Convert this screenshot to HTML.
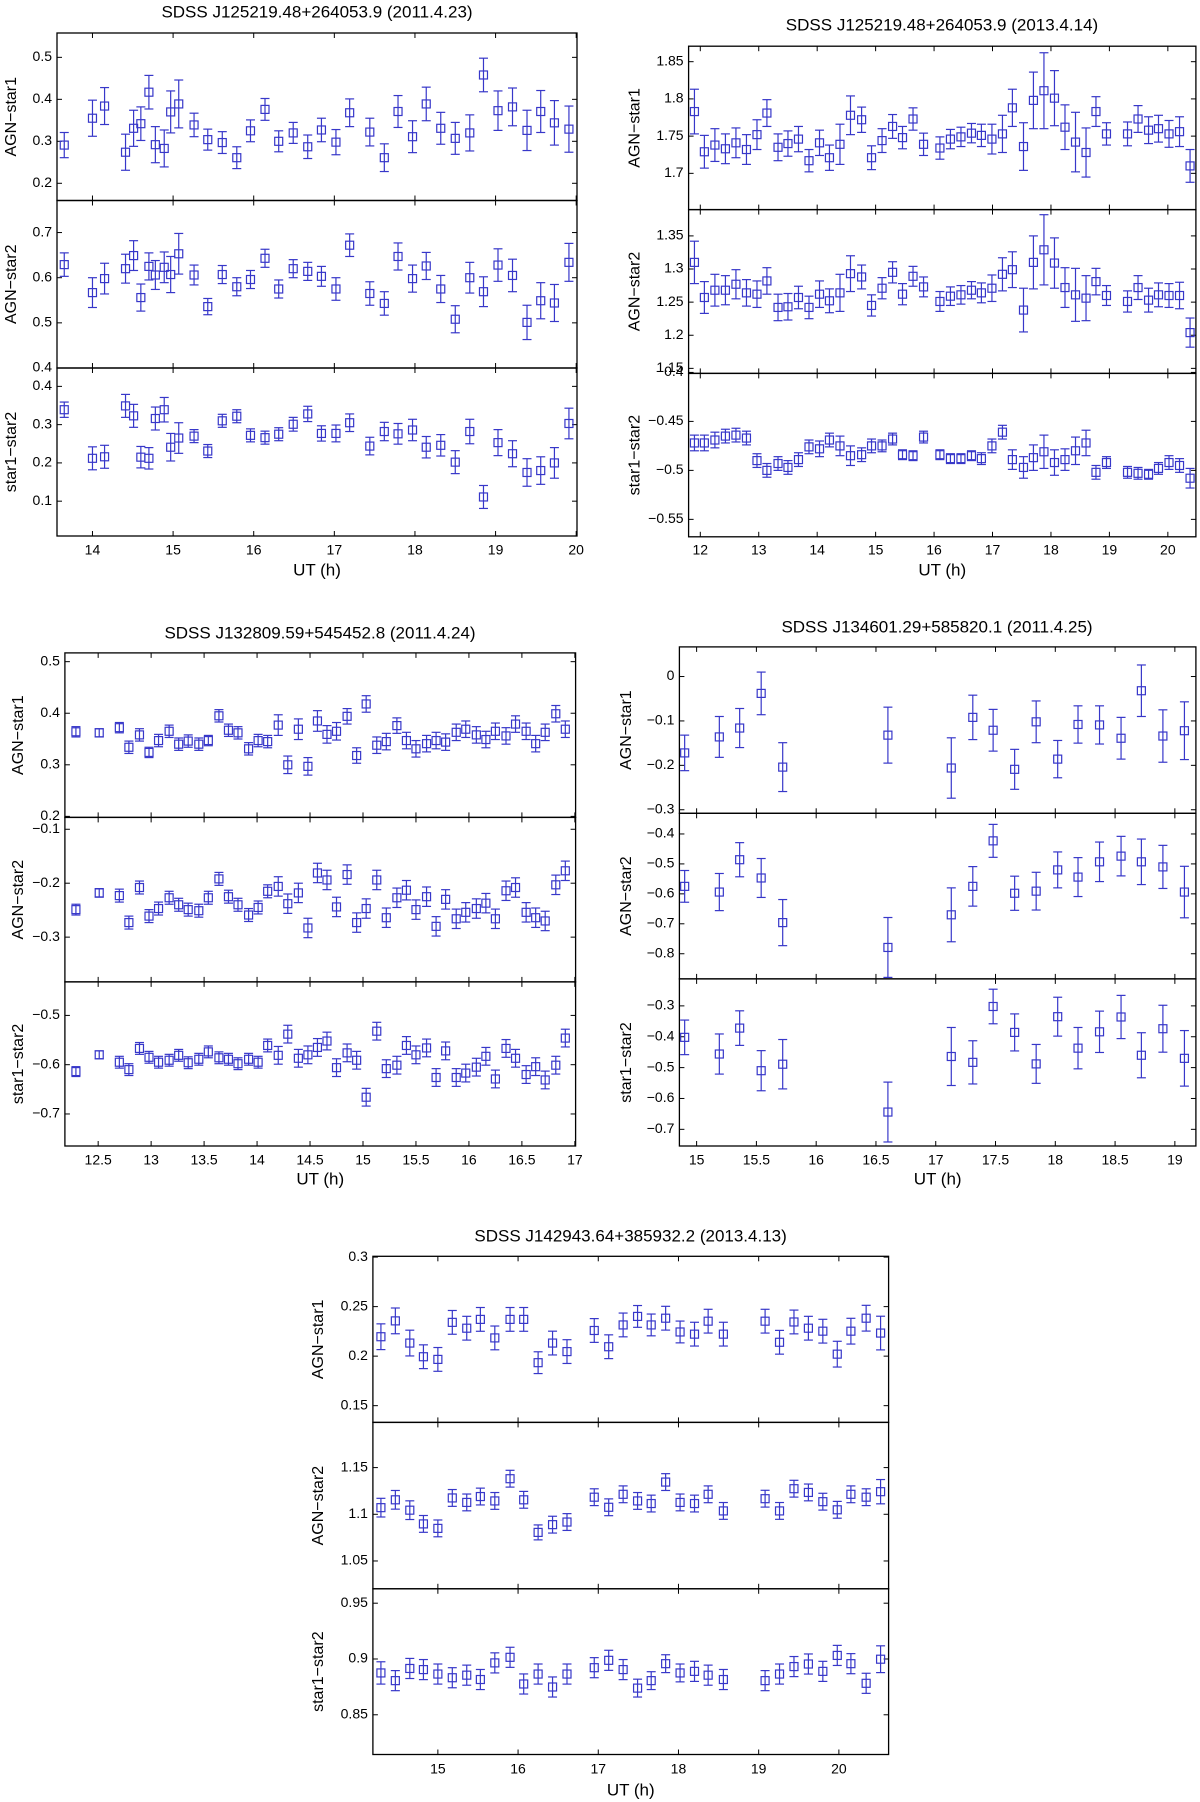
<!DOCTYPE html>
<html><head><meta charset="utf-8"><style>
html,body{margin:0;padding:0;background:#fff}
svg{display:block}
text{font-family:"Liberation Sans",Arial,sans-serif;fill:#000}
</style></head><body>
<svg id="fig" width="1200" height="1802" viewBox="0 0 1200 1802" xmlns="http://www.w3.org/2000/svg"></svg>
<script>
// ---------- Panel 1: SDSS J125219.48+264053.9 (2011.4.23) ----------
const p1x=[13.65,14.0,14.15,14.41,14.51,14.60,14.70,14.78,14.89,14.97,15.07,15.26,15.43,15.61,15.79,15.96,16.14,16.31,16.49,16.67,16.84,17.02,17.19,17.44,17.62,17.79,17.97,18.14,18.32,18.50,18.68,18.85,19.03,19.21,19.39,19.56,19.73,19.91];
const p1s1y=[0.291,0.355,0.384,0.274,0.331,0.342,0.417,0.292,0.283,0.370,0.389,0.339,0.304,0.297,0.261,0.325,0.376,0.300,0.320,0.287,0.327,0.298,0.368,0.322,0.261,0.371,0.311,0.389,0.331,0.307,0.320,0.458,0.373,0.382,0.326,0.371,0.344,0.329];
const p1s1e=[0.03,0.043,0.044,0.043,0.043,0.04,0.04,0.043,0.044,0.05,0.057,0.028,0.025,0.026,0.026,0.026,0.026,0.025,0.025,0.028,0.028,0.03,0.033,0.033,0.033,0.038,0.038,0.04,0.038,0.038,0.043,0.04,0.047,0.045,0.048,0.05,0.053,0.055];
const p1s2y=[0.629,0.567,0.598,0.620,0.649,0.556,0.625,0.606,0.623,0.607,0.653,0.606,0.536,0.607,0.580,0.596,0.643,0.575,0.620,0.614,0.603,0.575,0.672,0.565,0.543,0.647,0.598,0.626,0.575,0.508,0.600,0.569,0.628,0.605,0.501,0.549,0.544,0.634];
const p1s2e=[0.026,0.033,0.034,0.032,0.033,0.03,0.03,0.032,0.034,0.04,0.045,0.022,0.018,0.02,0.02,0.02,0.02,0.02,0.02,0.02,0.022,0.025,0.025,0.026,0.026,0.03,0.03,0.03,0.03,0.03,0.034,0.033,0.036,0.036,0.038,0.04,0.041,0.042];
const p1s3y=[0.339,0.212,0.216,0.349,0.323,0.215,0.212,0.316,0.339,0.241,0.265,0.270,0.231,0.310,0.322,0.272,0.266,0.275,0.301,0.328,0.277,0.277,0.305,0.244,0.282,0.276,0.286,0.241,0.246,0.202,0.282,0.111,0.253,0.224,0.175,0.180,0.200,0.303];
const p1s3e=[0.02,0.03,0.03,0.03,0.03,0.028,0.028,0.03,0.032,0.036,0.04,0.017,0.017,0.017,0.017,0.017,0.017,0.017,0.018,0.02,0.02,0.022,0.023,0.023,0.024,0.027,0.028,0.028,0.028,0.03,0.032,0.03,0.034,0.034,0.036,0.036,0.04,0.04];
const p1xTicks=[14,15,16,17,18,19,20];
const p1s1Ticks=[0.2,0.3,0.4,0.5];
const p1s2Ticks=[0.4,0.5,0.6,0.7];
const p1s3Ticks=[0.1,0.2,0.3,0.4];

// ---------- Panel 2: SDSS J125219.48+264053.9 (2013.4.14) ----------
const p2x=[11.90,12.07,12.25,12.43,12.61,12.79,12.97,13.14,13.33,13.50,13.68,13.86,14.04,14.21,14.39,14.57,14.76,14.93,15.11,15.29,15.46,15.64,15.82,16.10,16.28,16.46,16.64,16.81,16.99,17.17,17.34,17.53,17.70,17.88,18.06,18.24,18.42,18.60,18.77,18.95,19.31,19.49,19.67,19.84,20.02,20.20,20.38];
const p2s1y=[1.783,1.729,1.738,1.733,1.741,1.732,1.752,1.781,1.735,1.740,1.746,1.717,1.741,1.721,1.739,1.778,1.772,1.721,1.744,1.763,1.748,1.773,1.739,1.734,1.746,1.749,1.754,1.751,1.746,1.753,1.788,1.736,1.798,1.811,1.801,1.762,1.742,1.728,1.783,1.753,1.753,1.773,1.758,1.760,1.753,1.756,1.710];
const p2s1e=[0.03,0.022,0.022,0.02,0.02,0.02,0.02,0.018,0.018,0.017,0.017,0.015,0.017,0.017,0.027,0.026,0.017,0.016,0.016,0.016,0.015,0.015,0.015,0.015,0.013,0.013,0.013,0.015,0.02,0.025,0.025,0.032,0.038,0.051,0.037,0.03,0.04,0.033,0.02,0.015,0.016,0.018,0.018,0.018,0.018,0.02,0.022];
const p2s2y=[1.310,1.257,1.268,1.268,1.277,1.264,1.262,1.282,1.242,1.243,1.257,1.242,1.262,1.252,1.264,1.293,1.288,1.245,1.271,1.295,1.262,1.289,1.273,1.251,1.259,1.261,1.268,1.264,1.271,1.292,1.299,1.238,1.310,1.329,1.309,1.272,1.261,1.256,1.281,1.260,1.251,1.272,1.253,1.261,1.260,1.260,1.204];
const p2s2e=[0.032,0.024,0.024,0.022,0.022,0.02,0.02,0.02,0.02,0.02,0.017,0.017,0.02,0.018,0.028,0.027,0.018,0.016,0.016,0.016,0.016,0.015,0.015,0.015,0.014,0.014,0.013,0.015,0.02,0.025,0.027,0.033,0.04,0.053,0.038,0.03,0.04,0.034,0.02,0.015,0.016,0.018,0.018,0.018,0.018,0.02,0.022];
const p2s3y=[-0.472,-0.472,-0.469,-0.465,-0.464,-0.467,-0.490,-0.500,-0.493,-0.497,-0.489,-0.476,-0.478,-0.469,-0.475,-0.485,-0.484,-0.475,-0.475,-0.468,-0.484,-0.485,-0.466,-0.484,-0.488,-0.488,-0.485,-0.488,-0.475,-0.461,-0.489,-0.497,-0.487,-0.481,-0.492,-0.489,-0.480,-0.472,-0.502,-0.492,-0.502,-0.503,-0.504,-0.498,-0.492,-0.495,-0.508];
const p2s3e=[0.008,0.008,0.008,0.007,0.007,0.007,0.007,0.007,0.007,0.007,0.007,0.007,0.008,0.007,0.01,0.01,0.007,0.007,0.006,0.006,0.005,0.005,0.006,0.005,0.005,0.005,0.005,0.006,0.007,0.007,0.01,0.011,0.013,0.017,0.013,0.011,0.014,0.013,0.007,0.006,0.006,0.006,0.005,0.006,0.007,0.007,0.01];
const p2xTicks=[12,13,14,15,16,17,18,19,20];
const p2s1Ticks=[1.7,1.75,1.8,1.85];
const p2s2Ticks=[1.15,1.2,1.25,1.3,1.35];
const p2s3Ticks=[-0.55,-0.5,-0.45,-0.4];

// ---------- Panel 3: SDSS J132809.59+545452.8 (2011.4.24) ----------
const p3x=[12.29,12.51,12.70,12.79,12.89,12.98,13.07,13.17,13.26,13.35,13.45,13.54,13.64,13.73,13.82,13.92,14.01,14.10,14.20,14.29,14.39,14.48,14.57,14.66,14.75,14.85,14.94,15.03,15.13,15.22,15.32,15.41,15.50,15.60,15.69,15.78,15.88,15.97,16.07,16.16,16.25,16.35,16.44,16.54,16.63,16.72,16.82,16.91];
const p3s1y=[0.364,0.362,0.372,0.334,0.358,0.324,0.347,0.365,0.340,0.346,0.340,0.347,0.395,0.367,0.362,0.331,0.347,0.345,0.377,0.300,0.369,0.297,0.385,0.359,0.365,0.394,0.318,0.418,0.338,0.345,0.376,0.347,0.331,0.341,0.347,0.344,0.363,0.369,0.358,0.349,0.365,0.356,0.379,0.365,0.341,0.363,0.399,0.369];
const p3s1e=[0.01,0.008,0.01,0.012,0.012,0.01,0.012,0.012,0.012,0.012,0.012,0.01,0.012,0.012,0.012,0.012,0.012,0.012,0.02,0.017,0.02,0.017,0.02,0.017,0.017,0.015,0.015,0.016,0.016,0.016,0.015,0.016,0.016,0.016,0.016,0.016,0.016,0.016,0.016,0.016,0.016,0.016,0.016,0.016,0.016,0.016,0.016,0.016];
const p3s2y=[-0.249,-0.218,-0.223,-0.273,-0.208,-0.261,-0.247,-0.227,-0.240,-0.249,-0.251,-0.227,-0.192,-0.225,-0.240,-0.259,-0.245,-0.215,-0.206,-0.238,-0.218,-0.283,-0.181,-0.194,-0.244,-0.184,-0.273,-0.247,-0.194,-0.264,-0.227,-0.213,-0.249,-0.225,-0.280,-0.230,-0.266,-0.254,-0.247,-0.237,-0.266,-0.214,-0.208,-0.254,-0.264,-0.270,-0.203,-0.177];
const p3s2e=[0.01,0.008,0.012,0.012,0.012,0.012,0.012,0.012,0.012,0.012,0.012,0.012,0.012,0.012,0.012,0.012,0.012,0.012,0.018,0.018,0.018,0.018,0.018,0.018,0.018,0.018,0.018,0.018,0.018,0.018,0.018,0.018,0.018,0.018,0.018,0.018,0.018,0.018,0.018,0.018,0.018,0.018,0.018,0.018,0.018,0.018,0.018,0.018];
const p3s3y=[-0.614,-0.580,-0.595,-0.610,-0.567,-0.585,-0.595,-0.591,-0.581,-0.596,-0.589,-0.574,-0.586,-0.589,-0.598,-0.589,-0.595,-0.561,-0.581,-0.538,-0.587,-0.580,-0.565,-0.552,-0.606,-0.576,-0.591,-0.666,-0.532,-0.608,-0.601,-0.561,-0.580,-0.566,-0.626,-0.572,-0.626,-0.617,-0.605,-0.583,-0.629,-0.567,-0.587,-0.620,-0.604,-0.631,-0.601,-0.546];
const p3s3e=[0.01,0.008,0.012,0.012,0.012,0.012,0.012,0.012,0.012,0.012,0.012,0.012,0.012,0.012,0.012,0.012,0.012,0.013,0.018,0.018,0.018,0.018,0.018,0.018,0.018,0.018,0.018,0.018,0.018,0.018,0.018,0.018,0.018,0.018,0.018,0.018,0.018,0.018,0.018,0.018,0.018,0.018,0.018,0.018,0.018,0.018,0.018,0.018];
const p3xTicks=[12.5,13,13.5,14,14.5,15,15.5,16,16.5,17];
const p3s1Ticks=[0.2,0.3,0.4,0.5];
const p3s2Ticks=[-0.3,-0.2,-0.1];
const p3s3Ticks=[-0.7,-0.6,-0.5];

// ---------- Panel 4: SDSS J134601.29+585820.1 (2011.4.25) ----------
const p4x=[14.90,15.19,15.36,15.54,15.72,16.60,17.13,17.31,17.48,17.66,17.84,18.02,18.19,18.37,18.55,18.72,18.90,19.08];
const p4s1y=[-0.172,-0.136,-0.116,-0.038,-0.204,-0.132,-0.206,-0.092,-0.121,-0.209,-0.102,-0.186,-0.108,-0.109,-0.139,-0.032,-0.134,-0.122];
const p4s1e=[0.04,0.046,0.044,0.048,0.055,0.063,0.068,0.05,0.047,0.045,0.047,0.042,0.042,0.043,0.047,0.058,0.059,0.065];
const p4s2y=[-0.575,-0.594,-0.486,-0.547,-0.696,-0.779,-0.670,-0.575,-0.423,-0.598,-0.591,-0.520,-0.544,-0.493,-0.474,-0.493,-0.510,-0.594];
const p4s2e=[0.053,0.062,0.057,0.065,0.077,0.1,0.09,0.066,0.055,0.057,0.063,0.06,0.065,0.066,0.066,0.076,0.072,0.086];
const p4s3y=[-0.402,-0.456,-0.372,-0.510,-0.489,-0.644,-0.464,-0.483,-0.302,-0.386,-0.488,-0.335,-0.437,-0.384,-0.336,-0.460,-0.374,-0.470];
const p4s3e=[0.056,0.065,0.056,0.065,0.08,0.097,0.094,0.07,0.056,0.06,0.063,0.063,0.067,0.067,0.07,0.073,0.076,0.09];
const p4xTicks=[15,15.5,16,16.5,17,17.5,18,18.5,19];
const p4s1Ticks=[-0.3,-0.2,-0.1,0];
const p4s2Ticks=[-0.8,-0.7,-0.6,-0.5,-0.4];
const p4s3Ticks=[-0.7,-0.6,-0.5,-0.4,-0.3];

// ---------- Panel 5: SDSS J142943.64+385932.2 (2013.4.13) ----------
const p5x=[14.29,14.47,14.65,14.82,15.0,15.18,15.36,15.53,15.71,15.90,16.07,16.25,16.43,16.61,16.95,17.13,17.31,17.49,17.66,17.84,18.02,18.20,18.37,18.56,19.08,19.26,19.44,19.62,19.80,19.98,20.15,20.34,20.52];
const p5s1y=[0.2196,0.2356,0.2132,0.1994,0.1967,0.2341,0.2282,0.2371,0.2184,0.2371,0.2371,0.1934,0.2132,0.2046,0.2259,0.2095,0.2315,0.2401,0.2315,0.2383,0.2244,0.2222,0.2353,0.2222,0.2353,0.2140,0.2345,0.2282,0.2252,0.2020,0.2252,0.2383,0.2233];
const p5s1e=[0.013,0.013,0.013,0.012,0.012,0.012,0.012,0.012,0.012,0.012,0.012,0.011,0.012,0.012,0.012,0.012,0.012,0.011,0.011,0.012,0.011,0.012,0.012,0.012,0.012,0.012,0.012,0.012,0.012,0.013,0.013,0.013,0.017];
const p5s2y=[1.1071,1.1155,1.1044,1.0897,1.0849,1.1175,1.1127,1.1190,1.1143,1.1381,1.1155,1.0806,1.0889,1.0917,1.1183,1.1075,1.1214,1.1143,1.1115,1.1345,1.1127,1.1115,1.1214,1.1036,1.1167,1.1036,1.1274,1.1234,1.1135,1.1048,1.1214,1.1183,1.1242];
const p5s2e=[0.01,0.01,0.01,0.009,0.009,0.009,0.009,0.009,0.009,0.009,0.009,0.008,0.009,0.009,0.009,0.009,0.009,0.009,0.009,0.009,0.009,0.009,0.009,0.009,0.009,0.009,0.009,0.009,0.009,0.009,0.009,0.009,0.013];
const p5s3y=[0.8875,0.8806,0.8915,0.8905,0.8865,0.8832,0.8855,0.8816,0.8965,0.9015,0.8776,0.8865,0.8749,0.8865,0.8922,0.8988,0.8905,0.8739,0.8806,0.8958,0.8875,0.8889,0.8855,0.8816,0.8806,0.8865,0.8932,0.8955,0.8889,0.9032,0.8958,0.8782,0.8998];
const p5s3e=[0.01,0.009,0.009,0.009,0.009,0.009,0.009,0.009,0.009,0.009,0.009,0.009,0.009,0.009,0.009,0.009,0.009,0.008,0.008,0.008,0.008,0.009,0.009,0.009,0.009,0.009,0.009,0.009,0.009,0.009,0.009,0.009,0.012];
const p5xTicks=[15,16,17,18,19,20];
const p5s1Ticks=[0.15,0.2,0.25,0.3];
const p5s2Ticks=[1.05,1.1,1.15];
const p5s3Ticks=[0.85,0.9,0.95];

const svg=document.getElementById('fig');
const NS='http://www.w3.org/2000/svg';
const BLUE='#3737c9';
function mk(tag,attrs,parent){const e=document.createElementNS(NS,tag);for(const k in attrs)e.setAttribute(k,attrs[k]);(parent||svg).appendChild(e);return e;}
function fmt(v){if(Math.abs(v)<1e-9)return '0';let s=String(+v.toFixed(3));return s.replace('-','\u2212');}

const panels=[
 {id:'p1',title:'SDSS J125219.48+264053.9 (2011.4.23)',tx:317,ty:13,L:57,R:577,xmin:13.56,xmax:20.01,xt:p1xTicks,x:p1x,xlY:551,xlabY:571,ylX:12,
  subs:[{top:33,bot:200.5,ymin:0.159,ymax:0.558,t:p1s1Ticks,lab:'AGN\u2212star1',y:p1s1y,e:p1s1e},
        {top:200.5,bot:368,ymin:0.4,ymax:0.771,t:p1s2Ticks,lab:'AGN\u2212star2',y:p1s2y,e:p1s2e},
        {top:368,bot:536,ymin:0.009,ymax:0.448,t:p1s3Ticks,lab:'star1\u2212star2',y:p1s3y,e:p1s3e}]},
 {id:'p2',title:'SDSS J125219.48+264053.9 (2013.4.14)',tx:942,ty:26,L:688.6,R:1195.9,xmin:11.80,xmax:20.48,xt:p2xTicks,x:p2x,xlY:551,xlabY:571,ylX:635.5,
  subs:[{top:46.2,bot:209.6,ymin:1.6513,ymax:1.8708,t:p2s1Ticks,lab:'AGN\u2212star1',y:p2s1y,e:p2s1e},
        {top:209.6,bot:373.4,ymin:1.1424,ymax:1.3897,t:p2s2Ticks,lab:'AGN\u2212star2',y:p2s2y,e:p2s2e},
        {top:373.4,bot:536.8,ymin:-0.5678,ymax:-0.401,t:p2s3Ticks,lab:'star1\u2212star2',y:p2s3y,e:p2s3e}]},
 {id:'p3',title:'SDSS J132809.59+545452.8 (2011.4.24)',tx:320,ty:634,L:64.9,R:575.6,xmin:12.186,xmax:17.007,xt:p3xTicks,x:p3x,xlY:1161,xlabY:1180,ylX:19,
  subs:[{top:652.9,bot:817.4,ymin:0.198,ymax:0.517,t:p3s1Ticks,lab:'AGN\u2212star1',y:p3s1y,e:p3s1e},
        {top:817.4,bot:981.9,ymin:-0.383,ymax:-0.078,t:p3s2Ticks,lab:'AGN\u2212star2',y:p3s2y,e:p3s2e},
        {top:981.9,bot:1146,ymin:-0.765,ymax:-0.432,t:p3s3Ticks,lab:'star1\u2212star2',y:p3s3y,e:p3s3e}]},
 {id:'p4',title:'SDSS J134601.29+585820.1 (2011.4.25)',tx:937,ty:628,L:679.4,R:1195.9,xmin:14.856,xmax:19.176,xt:p4xTicks,x:p4x,xlY:1161,xlabY:1180,ylX:626.7,
  subs:[{top:646.9,bot:813.3,ymin:-0.308,ymax:0.0667,t:p4s1Ticks,lab:'AGN\u2212star1',y:p4s1y,e:p4s1e},
        {top:813.3,bot:978.9,ymin:-0.884,ymax:-0.331,t:p4s2Ticks,lab:'AGN\u2212star2',y:p4s2y,e:p4s2e},
        {top:978.9,bot:1146,ymin:-0.754,ymax:-0.2126,t:p4s3Ticks,lab:'star1\u2212star2',y:p4s3y,e:p4s3e}]},
 {id:'p5',title:'SDSS J142943.64+385932.2 (2013.4.13)',tx:630.6,ty:1237,L:372.9,R:888.6,xmin:14.19,xmax:20.62,xt:p5xTicks,x:p5x,xlY:1770,xlabY:1791,ylX:318.7,
  subs:[{top:1256.3,bot:1422.4,ymin:0.1331,ymax:0.3008,t:p5s1Ticks,lab:'AGN\u2212star1',y:p5s1y,e:p5s1e},
        {top:1422.4,bot:1588.8,ymin:1.0202,ymax:1.1984,t:p5s2Ticks,lab:'AGN\u2212star2',y:p5s2y,e:p5s2e},
        {top:1588.8,bot:1754.5,ymin:0.8144,ymax:0.9629,t:p5s3Ticks,lab:'star1\u2212star2',y:p5s3y,e:p5s3e}]}
];

panels.forEach(function(p){
  const g=mk('g',{});
  
  
  const xs=function(v){return p.L+(v-p.xmin)/(p.xmax-p.xmin)*(p.R-p.L);};
  const tt=mk('text',{x:p.tx,y:p.ty,'text-anchor':'middle','dominant-baseline':'middle','font-size':'17'},g);
  tt.textContent=p.title;
  
  
  p.subs.forEach(function(s,si){
    const sg=mk('g',{},g);
    
    
    const ys=function(v){return s.bot-(v-s.ymin)/(s.ymax-s.ymin)*(s.bot-s.top);};
    p.xt.forEach(function(v){const X=xs(v);
      mk('line',{x1:X,x2:X,y1:s.top,y2:s.top+5,stroke:'#000','stroke-width':1},sg);
      mk('line',{x1:X,x2:X,y1:s.bot,y2:s.bot-5,stroke:'#000','stroke-width':1},sg);});
    s.t.forEach(function(v){const Y=ys(v);
      mk('line',{x1:p.L,x2:p.L+5,y1:Y,y2:Y,stroke:'#000','stroke-width':1},sg);
      mk('line',{x1:p.R,x2:p.R-5,y1:Y,y2:Y,stroke:'#000','stroke-width':1},sg);
      const tl=mk('text',{x:p.L-5,y:Y,'text-anchor':'end','dominant-baseline':'middle','font-size':'14'},sg);
      tl.textContent=fmt(v);
      
      });
    const cy=(s.top+s.bot)/2;
    const yl=mk('text',{x:p.ylX,y:cy,'text-anchor':'middle','dominant-baseline':'middle','font-size':'16',transform:'rotate(-90 '+p.ylX+' '+cy+')'},sg);
    yl.textContent=s.lab;
    
    
    for(let i=0;i<p.x.length;i++){
      const X=xs(p.x[i]),Y=ys(s.y[i]),Y1=ys(s.y[i]+s.e[i]),Y2=ys(s.y[i]-s.e[i]);
      const m=mk('g',{stroke:BLUE,'stroke-width':1.2,fill:'none'},sg);
      
      
      mk('line',{x1:X,x2:X,y1:Y1,y2:Y2},m);
      mk('line',{x1:X-4.5,x2:X+4.5,y1:Y1,y2:Y1},m);
      mk('line',{x1:X-4.5,x2:X+4.5,y1:Y2,y2:Y2},m);
      mk('rect',{x:X-4,y:Y-4,width:8,height:8,fill:'none'},m);
    }
    const fr=mk('rect',{x:p.L,y:s.top,width:p.R-p.L,height:s.bot-s.top,fill:'none',stroke:'#000','stroke-width':1.3},sg);
    
    
  });
  p.xt.forEach(function(v){
    const xl=mk('text',{x:xs(v),y:p.xlY,'text-anchor':'middle','dominant-baseline':'middle','font-size':'14'},g);
    xl.textContent=fmt(v);
    
    });
  const xa=mk('text',{x:(p.L+p.R)/2,y:p.xlabY,'text-anchor':'middle','dominant-baseline':'middle','font-size':'17'},g);
  xa.textContent='UT (h)';
  
  
});
</script>
</body></html>
